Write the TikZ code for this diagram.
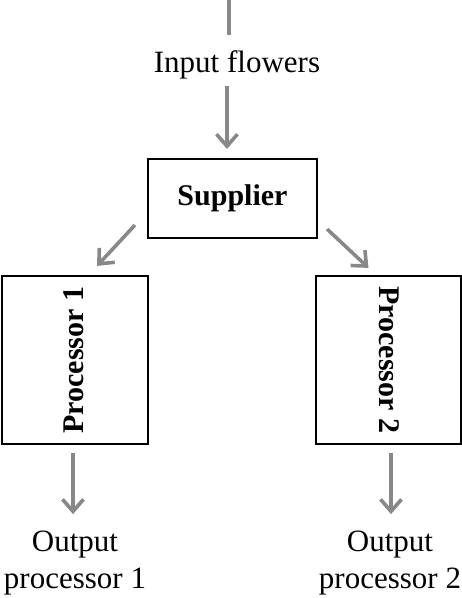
\documentclass[tikz,border=0pt]{standalone}
\usepackage{fontspec}
\setmainfont{Liberation Serif}
\usetikzlibrary{arrows.meta}
\definecolor{arrgray}{HTML}{888888}
\begin{document}
\begin{tikzpicture}[x=1pt,y=-1pt,
  arr/.style={draw=arrgray,line width=3.6pt,-{Straight Barb[length=12pt,width=21pt,line width=3.6pt]}},
  plain/.style={draw=arrgray,line width=3.6pt},
  box/.style={draw=black,line width=2.2pt,inner sep=0pt},
  txt/.style={font=\fontsize{31}{37}\selectfont,align=center,inner sep=0pt},
  btxt/.style={font=\fontsize{30}{36}\selectfont\bfseries,inner sep=0pt}]
\useasboundingbox (0,0) rectangle (462,598);
\coordinate (top) at (229,0);
\node[txt] (inp) at (237,65) {Input flowers};
\node[box,minimum width=169pt,minimum height=79pt] (sup) at (232.5,198.5) {};
\node[btxt] (supt) at (sup.center) {Supplier};
\node[box,minimum width=146pt,minimum height=168pt] (p1) at (75,360) {};
\node[btxt,rotate=90] (p1t) at (74,360) {Processor 1};
\node[box,minimum width=145pt,minimum height=168pt] (p2) at (388.5,360) {};
\node[btxt,rotate=-90] (p2t) at (389,360) {Processor 2};
\node[txt] (o1) at (75,563) {Output\\processor 1};
\node[txt] (o2) at (390,563) {Output\\processor 2};
\draw[plain] (top) -- ([yshift=-35pt]top);
\draw[arr] ([xshift=-10pt,yshift=-7pt]inp.south) -- ([xshift=-5.5pt,yshift=9pt]sup.north);
\draw[arr] ([xshift=-12pt,yshift=14pt]sup.south west) -- ([xshift=22pt,yshift=9pt]p1.north);
\draw[arr] ([xshift=9pt,yshift=10pt]sup.south east) -- ([xshift=-20pt,yshift=7pt]p2.north);
\draw[arr] ([xshift=-2pt,yshift=-8pt]p1.south) -- ([xshift=-2pt,yshift=-69pt]p1.south);
\draw[arr] ([xshift=2.5pt,yshift=-8pt]p2.south) -- ([xshift=2.5pt,yshift=-69pt]p2.south);
\end{tikzpicture}
\end{document}
